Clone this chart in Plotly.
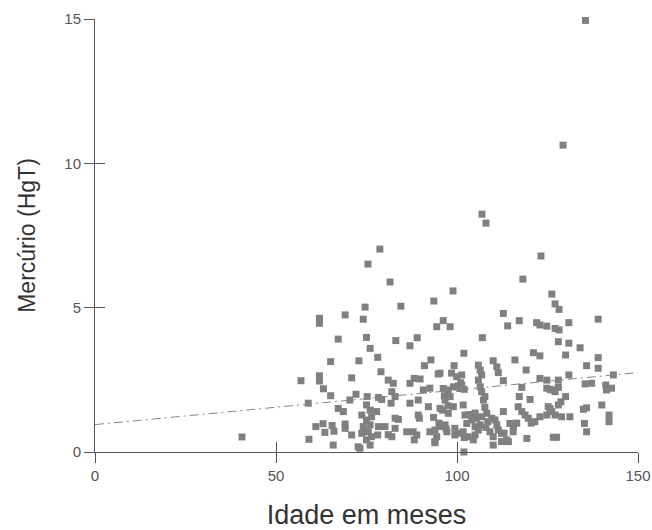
import plotly.graph_objects as go

# Idade (meses) e Mercúrio (HgT)
idade = [
    135.5, 129.3, 106.9, 108.0, 78.7, 75.4, 123.2, 81.5, 118.2, 98.9, 93.6, 126.2, 74.6, 84.5,
    40.6,
    69.1, 62.0, 62.0, 74.1, 67.2, 75.0, 76.0, 65.1, 72.9,
    56.9, 62.0, 62.0, 70.9, 63.1, 65.1, 58.9, 72.1, 70.4, 75.2, 75.0, 67.2, 68.6,
    73.7, 75.0, 76.4, 74.1, 76.0, 75.5, 73.7, 76.4, 75.0, 76.0, 72.7, 76.0,
    61.0, 63.0, 65.5, 63.5, 66.0, 69.1, 69.1, 70.9, 59.1, 65.8, 73.2,
    96.2, 94.4, 98.1, 83.1, 89.0, 87.0, 78.1, 92.8, 91.0, 79.0, 81.0, 82.4, 88.2, 89.8, 87.0,
    94.8, 99.2, 98.5, 99.9, 78.3, 79.2, 82.0, 82.9, 81.8, 87.0, 89.3, 90.7, 92.5, 92.1,
    97.6, 99.0, 100.4, 102.0, 95.3, 96.7, 98.1, 97.6, 99.0, 77.8, 78.3, 78.1, 82.9, 83.8,
    80.1, 81.0, 82.9, 82.0, 86.1, 87.9, 88.9, 88.2, 89.3, 89.6, 92.5, 93.9, 95.3, 96.7,
    94.4, 93.9, 97.2, 99.4, 99.4,
    112.8, 117.2, 114.0, 122.0, 122.9, 107.0, 101.9, 121.1, 122.9, 116.0, 110.0, 111.0,
    111.4, 105.9, 106.4, 106.8, 105.9, 119.1, 112.8, 122.9, 101.3, 117.9, 106.4, 106.8,
    107.7, 107.3, 117.2, 120.2, 101.7, 112.8, 102.2, 104.1, 105.4, 106.8, 108.2, 109.6,
    102.7, 105.0, 106.4, 105.9, 110.5, 111.0, 111.4, 112.3, 114.6, 115.6, 116.9, 117.9,
    118.8, 119.7, 121.5, 122.9, 101.7, 103.1, 105.0, 104.5, 109.1, 110.0, 110.0, 114.2,
    119.3, 101.9, 101.0, 101.3,
    127.1, 128.2, 139.0, 130.9, 124.8, 127.1, 128.2, 128.0, 130.9, 134.0, 130.0, 139.0,
    135.8, 139.0, 130.9, 143.2, 135.4, 137.2, 141.1, 141.3, 142.7, 128.0, 126.2, 124.8,
    130.0, 128.7, 140.0, 135.8, 134.9, 125.2, 126.2, 127.1, 128.9, 131.2, 124.8, 142.0,
    142.0, 135.2, 135.8, 126.6,
    95.3, 124.8, 128.0, 125.7, 127.1, 96.2, 100.8, 96.5, 97.5, 96.0, 107.7, 103.5,
    105.0, 108.5, 116.5, 125.7, 128.0, 93.5, 95.0, 97.0, 100.5, 102.0, 113.0, 115.5,
    112.3, 113.7, 127.5, 108.0, 120.5, 93.9,
]
mercurio = [
    14.95, 10.63, 8.24, 7.93, 7.03, 6.51, 6.79, 5.89, 5.99, 5.58, 5.23, 5.47, 5.02, 5.05,
    0.52,
    4.75, 4.63, 4.46, 4.60, 3.91, 3.97, 3.59, 3.13, 3.16,
    2.47, 2.64, 2.46, 2.57, 2.19, 1.95, 1.69, 2.00, 1.80, 1.92, 1.63, 1.51, 1.40,
    1.28, 1.11, 1.22, 0.88, 0.94, 0.70, 0.65, 0.53, 0.42, 0.24, 0.18, 1.45,
    0.88, 0.98, 0.92, 0.68, 0.72, 0.82, 0.97, 0.59, 0.44, 0.24, 0.13,
    4.55, 4.34, 4.34, 3.86, 3.96, 3.68, 3.28, 3.19, 2.99, 2.78, 2.49, 2.38, 2.55, 2.53, 2.38,
    2.70, 2.99, 2.73, 2.61, 1.89, 1.82, 2.09, 1.92, 1.69, 1.69, 1.80, 2.15, 2.21, 1.57,
    2.15, 2.26, 2.29, 2.17, 1.51, 1.80, 1.92, 1.34, 1.57, 1.40, 0.88, 0.59, 1.17, 1.13,
    0.88, 0.60, 0.82, 0.53, 0.70, 0.70, 0.59, 0.42, 1.28, 1.17, 0.70, 0.76, 0.88, 0.94,
    0.53, 0.32, 0.70, 0.59, 0.82,
    4.80, 4.55, 4.37, 4.48, 4.40, 3.96, 3.42, 3.44, 3.33, 3.19, 3.16, 2.95,
    2.75, 3.01, 2.84, 2.67, 2.49, 2.84, 2.47, 2.55, 2.67, 2.24, 2.26, 2.09,
    1.92, 1.80, 1.92, 1.82, 1.63, 1.40, 1.28, 1.11, 1.17, 1.22, 1.34, 1.17,
    0.99, 0.88, 0.94, 0.76, 1.11, 0.94, 0.76, 0.65, 0.99, 0.88, 1.57, 1.40,
    1.28, 1.17, 1.05, 1.22, 0.70, 0.53, 0.59, 0.42, 0.70, 0.53, 0.24, 0.36,
    0.47, 0.00, 2.40, 2.32,
    5.13, 4.94, 4.60, 4.48, 4.36, 4.28, 4.23, 3.82, 3.77, 3.61, 3.36, 3.27,
    2.99, 2.90, 2.67, 2.67, 2.36, 2.38, 2.32, 2.15, 2.21, 2.24, 2.15, 2.21,
    1.92, 1.74, 1.63, 1.53, 1.48, 1.57, 1.40, 1.28, 1.22, 1.22, 1.28, 1.28,
    1.05, 0.99, 0.70, 0.51,
    2.73, 2.49, 2.49, 2.17, 2.09, 2.20, 2.20, 1.95, 1.60, 1.45, 1.55, 1.30,
    1.35, 1.05, 1.00, 1.50, 1.63, 1.20, 1.00, 0.80, 0.65, 0.50, 0.65, 0.70,
    0.36, 0.42, 0.51, 0.85, 1.00, 0.36,
]

# Linha de tendência (extremos)
trend_x = [0, 150]
trend_y = [0.95, 2.75]

x_ticks = [0, 50, 100, 150]
y_ticks = [0, 5, 10, 15]

font_family = "Arial, Liberation Sans, sans-serif"
axis_color = "#555555"

fig = go.Figure()
fig.add_trace(go.Scatter(
    x=idade, y=mercurio, mode="markers",
    marker=dict(symbol="square", size=7, color="#808080", line=dict(width=0)),
    cliponaxis=False, showlegend=False, hoverinfo="x+y",
))
fig.add_trace(go.Scatter(
    x=trend_x, y=trend_y, mode="lines", xaxis="x2", yaxis="y2",
    line=dict(color="#888888", width=1, dash="9px,4px,2px,4px"),
    showlegend=False, hoverinfo="skip",
))

common = dict(showgrid=False, zeroline=False, automargin=False)
fig.update_layout(
    width=652, height=530,
    margin=dict(l=95, r=14, t=19, b=78),
    plot_bgcolor="white", paper_bgcolor="white",
    font=dict(family=font_family, color="#555555", size=15),
    xaxis=dict(
        range=[0, 150], tickvals=x_ticks, ticks="outside", ticklen=10, tickwidth=1,
        tickcolor=axis_color, showline=True, linecolor=axis_color, linewidth=1,
        tickfont=dict(size=15, color="#555555"),
        title=dict(text="Idade em meses", font=dict(size=27, color="#333333"), standoff=22),
        **common,
    ),
    yaxis=dict(
        range=[0, 15], tickvals=y_ticks, ticks="outside", ticklen=10, tickwidth=1,
        tickcolor=axis_color, showline=True, linecolor=axis_color, linewidth=1,
        tickfont=dict(size=15, color="#555555"),
        title=dict(text="Mercúrio (HgT)", font=dict(size=23, color="#333333"), standoff=22),
        **common,
    ),
    xaxis2=dict(
        range=[0, 150], tickvals=x_ticks, ticks="inside", ticklen=10, tickwidth=1,
        tickcolor=axis_color, showticklabels=False, showline=False,
        overlaying="x", anchor="y2", **common,
    ),
    yaxis2=dict(
        range=[0, 15], tickvals=y_ticks, ticks="inside", ticklen=10, tickwidth=1,
        tickcolor=axis_color, showticklabels=False, showline=False,
        overlaying="y", anchor="x2", **common,
    ),
)

fig.write_html(
    "out.html",
    config={"displayModeBar": False},
    post_script="document.body.style.margin='0';document.body.style.overflow='hidden';",
)
